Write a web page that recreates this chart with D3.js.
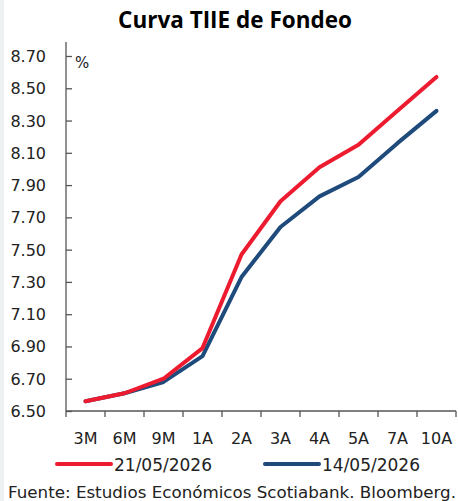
<!DOCTYPE html>
<html>
<head>
<meta charset="utf-8">
<script src="https://cdn.jsdelivr.net/npm/d3@7"></script>
<style>
  body { margin: 0; background: #fff; }
  svg { display: block; font-family: "DejaVu Sans", sans-serif; }
  .title { font-family: "Open Sans", "Noto Sans", sans-serif; }
</style>
</head>
<body>
<div id="chart"></div>
<script>
// tenors on the x axis
const tenors = ['3M', '6M', '9M', '1A', '2A', '3A', '4A', '5A', '7A', '10A'];
// TIIE de Fondeo curve, %
const curve2105 = [6.56, 6.61, 6.70, 6.89, 7.47, 7.80, 8.01, 8.15, 8.36, 8.57];
const curve1405 = [6.56, 6.61, 6.68, 6.84, 7.33, 7.64, 7.83, 7.95, 8.16, 8.36];
const yTicks = [6.5, 6.7, 6.9, 7.1, 7.3, 7.5, 7.7, 7.9, 8.1, 8.3, 8.5, 8.7];

const series = [
    {name: '21/05/2026', values: curve2105, color: '#ed1b2f'},
    {name: '14/05/2026', values: curve1405, color: '#1f4a7c'}
];

const W = 458, H = 501;
const margin = {top: 56, right: 2, bottom: 90, left: 66};

const svg = d3.select('#chart').append('svg')
    .attr('width', W)
    .attr('height', H);

// light grey strip on the left edge
svg.append('rect').attr('x', 0).attr('y', 0).attr('width', 4).attr('height', H).attr('fill', '#eef1f1');

svg.append('text')
    .attr('class', 'title')
    .attr('x', 235).attr('y', 28)
    .attr('text-anchor', 'middle')
    .style('font-size', '22.5px').style('font-weight', 'bold')
    .text('Curva TIIE de Fondeo');

const x = d3.scaleBand()
    .domain(tenors)
    .range([margin.left, W - margin.right]);

const y = d3.scaleLinear()
    .domain([6.5, 8.7])
    .range([H - margin.bottom, margin.top]);

const g = svg.append('g');

// y axis, ticks pointing into the plot
const yAxis = g.append('g')
    .attr('transform', 'translate(' + margin.left + ',0)')
    .call(d3.axisRight(y).tickValues(yTicks).tickSize(6).tickFormat(''));
yAxis.select('.domain').attr('d', 'M0,' + (margin.top - 14) + 'V' + (H - margin.bottom));
yAxis.selectAll('line, path').attr('stroke', '#555').attr('stroke-width', 1.3);

g.selectAll('.ylab')
    .data(yTicks)
    .enter().append('text')
    .attr('class', 'ylab')
    .attr('x', 46)
    .attr('y', d => y(d) + 6)
    .attr('text-anchor', 'end')
    .style('font-size', '16px').attr('fill', '#222')
    .text(d => d.toFixed(2));

g.append('text')
    .attr('x', 75).attr('y', 68)
    .style('font-size', '15px').attr('fill', '#222')
    .text('%');

// x axis with ticks at band edges
const edges = tenors.map(t => x(t)).concat([x.range()[1]]);
const xAxis = g.append('g').attr('transform', 'translate(0,' + (H - margin.bottom) + ')');
xAxis.append('line')
    .attr('x1', margin.left).attr('x2', W - margin.right)
    .attr('stroke', '#555').attr('stroke-width', 1.5);
xAxis.selectAll('.xt')
    .data(edges)
    .enter().append('line')
    .attr('x1', d => d).attr('x2', d => d)
    .attr('y1', 0).attr('y2', 6)
    .attr('stroke', '#555').attr('stroke-width', 1.3);
xAxis.selectAll('.xlab')
    .data(tenors)
    .enter().append('text')
    .attr('x', d => x(d) + x.bandwidth() / 2)
    .attr('y', 33)
    .attr('text-anchor', 'middle')
    .style('font-size', '16px').attr('fill', '#222')
    .text(d => d);

const line = d3.line()
    .x((d, i) => x(tenors[i]) + x.bandwidth() / 2)
    .y(d => y(d));

// draw the older curve first so the latest one sits on top where they overlap
series.slice().reverse().forEach(s => {
    g.append('path')
        .datum(s.values)
        .attr('d', line)
        .attr('fill', 'none')
        .attr('stroke', s.color)
        .attr('stroke-width', 4)
        .attr('stroke-linejoin', 'round')
        .attr('stroke-linecap', 'round');
});

// legend
const legendX = [57, 265];
series.forEach((s, i) => {
    svg.append('line')
        .attr('x1', legendX[i]).attr('x2', legendX[i] + 54)
        .attr('y1', 464).attr('y2', 464)
        .attr('stroke', s.color).attr('stroke-width', 4)
        .attr('stroke-linecap', 'round');
    svg.append('text')
        .attr('x', legendX[i] + 57).attr('y', 471)
        .style('font-size', '17px').attr('fill', '#222')
        .text(s.name);
});

svg.append('text')
    .attr('x', 8).attr('y', 497.5)
    .attr('textLength', 448).attr('lengthAdjust', 'spacingAndGlyphs')
    .style('font-size', '15.5px').attr('fill', '#222')
    .text('Fuente: Estudios Económicos Scotiabank. Bloomberg.');
</script>
</body>
</html>
